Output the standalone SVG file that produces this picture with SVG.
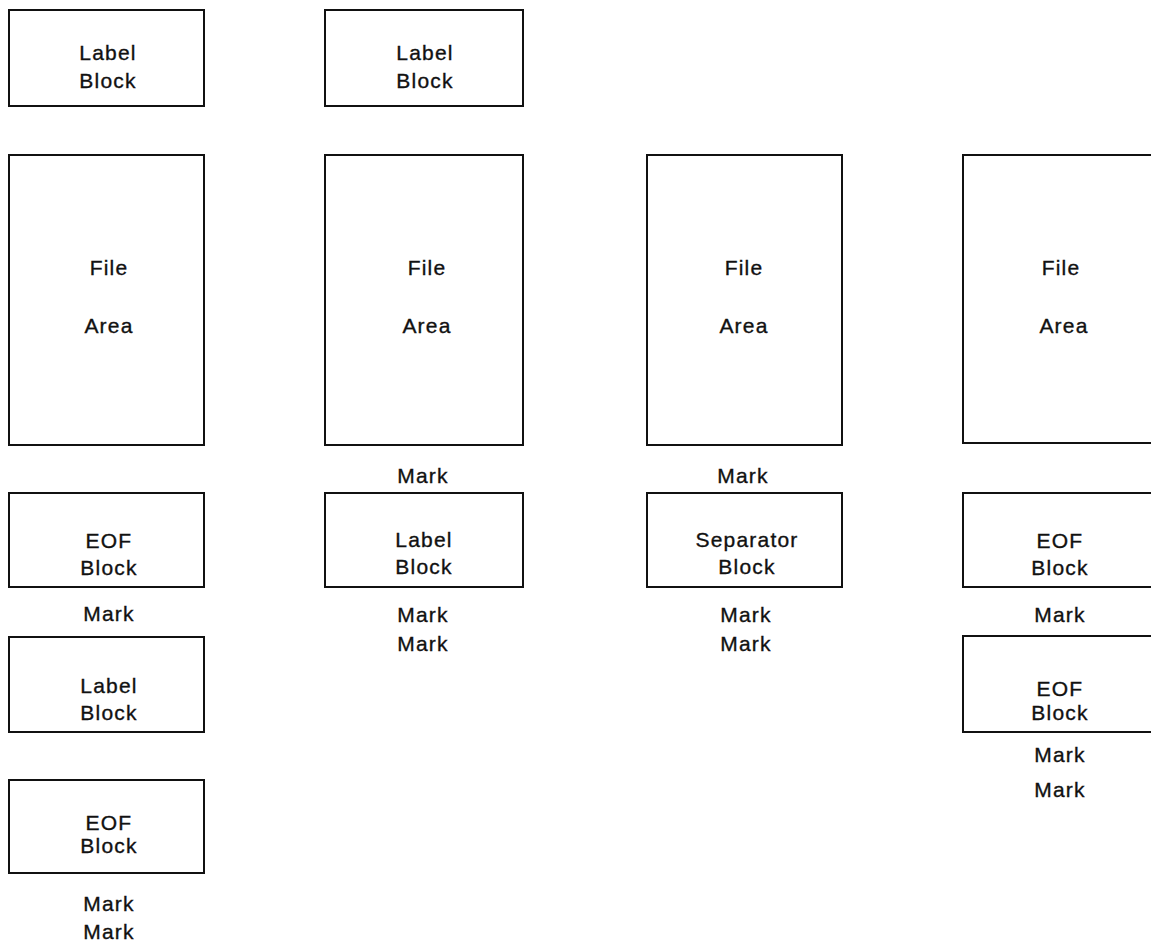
<svg xmlns="http://www.w3.org/2000/svg" width="1151" height="943" viewBox="0 0 1151 943">
  <style>
    .box { fill: #ffffff; stroke: #111111; stroke-width: 2; }
    .t { font-family: "Liberation Sans", Arial, Helvetica, sans-serif; font-size: 21px; letter-spacing: 1.2px; fill: #111111; stroke: #111111; stroke-width: 0.35; text-anchor: middle; }
  </style>
  <rect x="0" y="0" width="1151" height="943" fill="#ffffff"/>

  <!-- Column 1 -->
  <g id="c1-label">
    <rect class="box" x="9" y="10" width="195" height="96"/>
    <text class="t" x="108" y="60">Label</text>
    <text class="t" x="108" y="88">Block</text>
  </g>
  <g id="c1-file">
    <rect class="box" x="9" y="155" width="195" height="290"/>
    <text class="t" x="109" y="275">File</text>
    <text class="t" x="109" y="333">Area</text>
  </g>
  <g id="c1-eof">
    <rect class="box" x="9" y="493" width="195" height="94"/>
    <text class="t" x="109" y="548">EOF</text>
    <text class="t" x="109" y="575">Block</text>
  </g>
  <g id="c1-label2">
    <rect class="box" x="9" y="637" width="195" height="95"/>
    <text class="t" x="109" y="693">Label</text>
    <text class="t" x="109" y="720">Block</text>
  </g>
  <g id="c1-eof2">
    <rect class="box" x="9" y="780" width="195" height="93"/>
    <text class="t" x="109" y="830">EOF</text>
    <text class="t" x="109" y="853">Block</text>
  </g>

  <!-- Column 2 -->
  <g id="c2-label">
    <rect class="box" x="325" y="10" width="198" height="96"/>
    <text class="t" x="425" y="60">Label</text>
    <text class="t" x="425" y="88">Block</text>
  </g>
  <g id="c2-file">
    <rect class="box" x="325" y="155" width="198" height="290"/>
    <text class="t" x="427" y="275">File</text>
    <text class="t" x="427" y="333">Area</text>
  </g>
  <g id="c2-label2">
    <rect class="box" x="325" y="493" width="198" height="94"/>
    <text class="t" x="424" y="547">Label</text>
    <text class="t" x="424" y="574">Block</text>
  </g>

  <!-- Column 3 -->
  <g id="c3-file">
    <rect class="box" x="647" y="155" width="195" height="290"/>
    <text class="t" x="744" y="275">File</text>
    <text class="t" x="744" y="333">Area</text>
  </g>
  <g id="c3-separator">
    <rect class="box" x="647" y="493" width="195" height="94"/>
    <text class="t" x="747" y="547">Separator</text>
    <text class="t" x="747" y="574">Block</text>
  </g>

  <!-- Column 4 (runs past the right edge) -->
  <g id="c4-file">
    <rect class="box" x="963" y="155" width="200" height="288"/>
    <text class="t" x="1061" y="275">File</text>
    <text class="t" x="1064" y="333">Area</text>
  </g>
  <g id="c4-eof">
    <rect class="box" x="963" y="493" width="200" height="94"/>
    <text class="t" x="1060" y="548">EOF</text>
    <text class="t" x="1060" y="575">Block</text>
  </g>
  <g id="c4-eof2">
    <rect class="box" x="963" y="636" width="200" height="96"/>
    <text class="t" x="1060" y="696">EOF</text>
    <text class="t" x="1060" y="720">Block</text>
  </g>

  <!-- Tape marks -->
  <g id="marks">
    <text class="t" x="109" y="621">Mark</text>
    <text class="t" x="109" y="911">Mark</text>
    <text class="t" x="109" y="939">Mark</text>

    <text class="t" x="423" y="483">Mark</text>
    <text class="t" x="423" y="622">Mark</text>
    <text class="t" x="423" y="651">Mark</text>

    <text class="t" x="743" y="483">Mark</text>
    <text class="t" x="746" y="622">Mark</text>
    <text class="t" x="746" y="651">Mark</text>

    <text class="t" x="1060" y="622">Mark</text>
    <text class="t" x="1060" y="762">Mark</text>
    <text class="t" x="1060" y="797">Mark</text>
  </g>
</svg>
